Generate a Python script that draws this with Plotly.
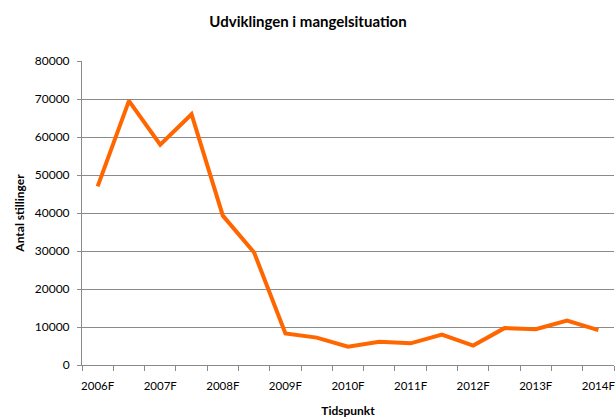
import plotly.graph_objects as go

categories = []
for yr in range(2006, 2015):
    categories.append(f"{yr}F")
    if yr < 2014:
        categories.append(f"{yr}E")

values = [47000, 69500, 58000, 66000, 39300, 29600, 8300, 7200, 4800,
          6100, 5700, 8000, 5100, 9700, 9400, 11700, 9200]

tick_labels = [c if i % 2 == 0 else "" for i, c in enumerate(categories)]

FONT = "Lato, Open Sans, sans-serif"
GRID = "#8a8a8a"

fig = go.Figure()
fig.add_trace(go.Scatter(
    x=categories, y=values, mode="lines",
    line=dict(color="#FF6600", width=4),
    showlegend=False, hoverinfo="x+y",
))

fig.update_layout(
    width=616, height=420,
    margin=dict(l=82, r=2, t=61, b=55),
    paper_bgcolor="white", plot_bgcolor="white",
    font=dict(family=FONT, size=12, color="#000000"),
    title=dict(text="<b>Udviklingen i mangelsituation</b>", x=0.5, xanchor="center",
               y=1 - 22 / 420, yanchor="middle", font=dict(size=15, family=FONT)),
)

fig.update_xaxes(
    type="category", categoryorder="array", categoryarray=categories,
    range=[-0.5, len(categories) - 0.5],
    tickmode="array", tickvals=categories, ticktext=tick_labels,
    tickson="boundaries", ticks="outside", ticklen=5, tickcolor=GRID, tickwidth=1,
    showline=True, linecolor=GRID, linewidth=1, showgrid=False,
    tickangle=0, tickfont=dict(size=11.5), automargin=False, ticklabelstandoff=10,
    title=dict(text="<b>Tidspunkt</b>", font=dict(size=12), standoff=15),
)
fig.update_yaxes(
    range=[0, 80000], tickmode="linear", tick0=0, dtick=10000, tickformat="d",
    showgrid=True, gridcolor=GRID, gridwidth=1,
    showline=True, linecolor=GRID, linewidth=1,
    ticks="outside", ticklen=4, tickcolor=GRID,
    zeroline=False, tickfont=dict(size=12), automargin=False, ticklabelstandoff=5,
    title=dict(text="<b>Antal stillinger</b>", font=dict(size=12), standoff=7),
)

fig.write_html("out.html", config={"displayModeBar": False},
               post_script="document.body.style.margin='0';")
